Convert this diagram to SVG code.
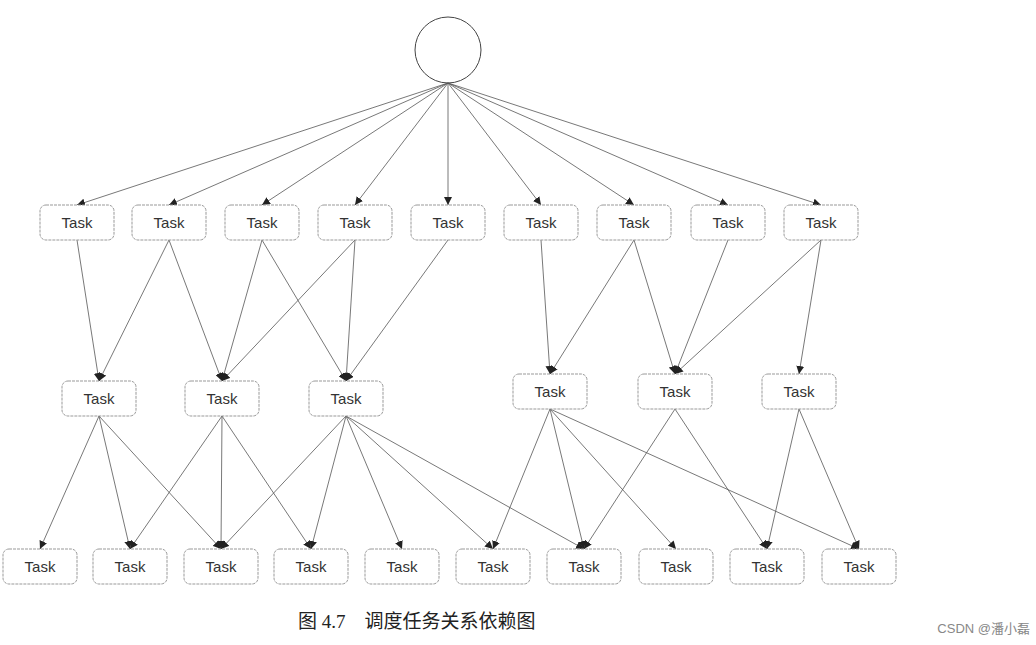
<svg xmlns="http://www.w3.org/2000/svg" width="1036" height="645" viewBox="0 0 1036 645">
<style>
.n rect{fill:#fff;stroke:#999;stroke-width:1;stroke-dasharray:3 1}
.n text{font-family:"Liberation Sans",Arial,sans-serif;font-size:15px;fill:#333;text-anchor:middle}
#edges line{stroke:#555;stroke-width:0.8;marker-end:url(#a)}
.cap{font-family:"Liberation Serif","Noto Sans CJK SC",serif;font-size:19px;fill:#222}
</style>
<defs><marker id="a" viewBox="0 0 10 10" refX="10" refY="5" markerWidth="8" markerHeight="8" markerUnits="userSpaceOnUse" orient="auto"><path d="M0,0L10,5L0,10z" fill="#222"/></marker></defs>
<rect width="1036" height="645" fill="#fff"/>
<g id="root"><circle cx="448" cy="50" r="33" fill="#fff" stroke="#444" stroke-width="1"/></g>
<g id="edges">
<line x1="448" y1="83" x2="77" y2="205"/><line x1="448" y1="83" x2="169" y2="205"/><line x1="448" y1="83" x2="262" y2="205"/><line x1="448" y1="83" x2="355" y2="205"/><line x1="448" y1="83" x2="448" y2="205"/><line x1="448" y1="83" x2="541" y2="205"/><line x1="448" y1="83" x2="634" y2="205"/><line x1="448" y1="83" x2="728" y2="205"/><line x1="448" y1="83" x2="821" y2="205"/>
<line x1="77" y1="240" x2="99" y2="381"/><line x1="169" y1="240" x2="99" y2="381"/><line x1="169" y1="240" x2="222" y2="381"/><line x1="262" y1="240" x2="222" y2="381"/><line x1="262" y1="240" x2="346" y2="381"/><line x1="355" y1="240" x2="222" y2="381"/><line x1="355" y1="240" x2="346" y2="381"/><line x1="448" y1="240" x2="346" y2="381"/>
<line x1="541" y1="240" x2="550" y2="374"/><line x1="634" y1="240" x2="550" y2="374"/><line x1="634" y1="240" x2="675" y2="374"/><line x1="728" y1="240" x2="675" y2="374"/><line x1="821" y1="240" x2="675" y2="374"/><line x1="821" y1="240" x2="799" y2="374"/>
<line x1="99" y1="416" x2="40" y2="549"/><line x1="99" y1="416" x2="130" y2="549"/><line x1="99" y1="416" x2="221" y2="549"/>
<line x1="222" y1="416" x2="130" y2="549"/><line x1="222" y1="416" x2="221" y2="549"/><line x1="222" y1="416" x2="311" y2="549"/>
<line x1="346" y1="416" x2="221" y2="549"/><line x1="346" y1="416" x2="311" y2="549"/><line x1="346" y1="416" x2="402" y2="549"/><line x1="346" y1="416" x2="493" y2="549"/><line x1="346" y1="416" x2="584" y2="549"/>
<line x1="550" y1="409" x2="493" y2="549"/><line x1="550" y1="409" x2="584" y2="549"/><line x1="550" y1="409" x2="676" y2="549"/><line x1="550" y1="409" x2="859" y2="549"/>
<line x1="675" y1="409" x2="584" y2="549"/><line x1="675" y1="409" x2="767" y2="549"/>
<line x1="799" y1="409" x2="767" y2="549"/><line x1="799" y1="409" x2="859" y2="549"/>
</g>
<g id="t1" class="n"><rect x="40" y="205" width="74" height="35" rx="6"/><text x="77" y="228">Task</text></g>
<g id="t2" class="n"><rect x="132" y="205" width="74" height="35" rx="6"/><text x="169" y="228">Task</text></g>
<g id="t3" class="n"><rect x="225" y="205" width="74" height="35" rx="6"/><text x="262" y="228">Task</text></g>
<g id="t4" class="n"><rect x="318" y="205" width="74" height="35" rx="6"/><text x="355" y="228">Task</text></g>
<g id="t5" class="n"><rect x="411" y="205" width="74" height="35" rx="6"/><text x="448" y="228">Task</text></g>
<g id="t6" class="n"><rect x="504" y="205" width="74" height="35" rx="6"/><text x="541" y="228">Task</text></g>
<g id="t7" class="n"><rect x="597" y="205" width="74" height="35" rx="6"/><text x="634" y="228">Task</text></g>
<g id="t8" class="n"><rect x="691" y="205" width="74" height="35" rx="6"/><text x="728" y="228">Task</text></g>
<g id="t9" class="n"><rect x="784" y="205" width="74" height="35" rx="6"/><text x="821" y="228">Task</text></g>
<g id="m1" class="n"><rect x="62" y="381" width="74" height="35" rx="6"/><text x="99" y="404">Task</text></g>
<g id="m2" class="n"><rect x="185" y="381" width="74" height="35" rx="6"/><text x="222" y="404">Task</text></g>
<g id="m3" class="n"><rect x="309" y="381" width="74" height="35" rx="6"/><text x="346" y="404">Task</text></g>
<g id="m4" class="n"><rect x="513" y="374" width="74" height="35" rx="6"/><text x="550" y="397">Task</text></g>
<g id="m5" class="n"><rect x="638" y="374" width="74" height="35" rx="6"/><text x="675" y="397">Task</text></g>
<g id="m6" class="n"><rect x="762" y="374" width="74" height="35" rx="6"/><text x="799" y="397">Task</text></g>
<g id="b1" class="n"><rect x="3" y="549" width="74" height="35" rx="6"/><text x="40" y="572">Task</text></g>
<g id="b2" class="n"><rect x="93" y="549" width="74" height="35" rx="6"/><text x="130" y="572">Task</text></g>
<g id="b3" class="n"><rect x="184" y="549" width="74" height="35" rx="6"/><text x="221" y="572">Task</text></g>
<g id="b4" class="n"><rect x="274" y="549" width="74" height="35" rx="6"/><text x="311" y="572">Task</text></g>
<g id="b5" class="n"><rect x="365" y="549" width="74" height="35" rx="6"/><text x="402" y="572">Task</text></g>
<g id="b6" class="n"><rect x="456" y="549" width="74" height="35" rx="6"/><text x="493" y="572">Task</text></g>
<g id="b7" class="n"><rect x="547" y="549" width="74" height="35" rx="6"/><text x="584" y="572">Task</text></g>
<g id="b8" class="n"><rect x="639" y="549" width="74" height="35" rx="6"/><text x="676" y="572">Task</text></g>
<g id="b9" class="n"><rect x="730" y="549" width="74" height="35" rx="6"/><text x="767" y="572">Task</text></g>
<g id="b10" class="n"><rect x="822" y="549" width="74" height="35" rx="6"/><text x="859" y="572">Task</text></g>
<text class="cap" x="298" y="628">图 4.7　调度任务关系依赖图</text>
<text x="1030" y="633" text-anchor="end" font-family="'Liberation Sans','Noto Sans CJK SC',sans-serif" font-size="13" fill="#888">CSDN @潘小磊</text>
</svg>
